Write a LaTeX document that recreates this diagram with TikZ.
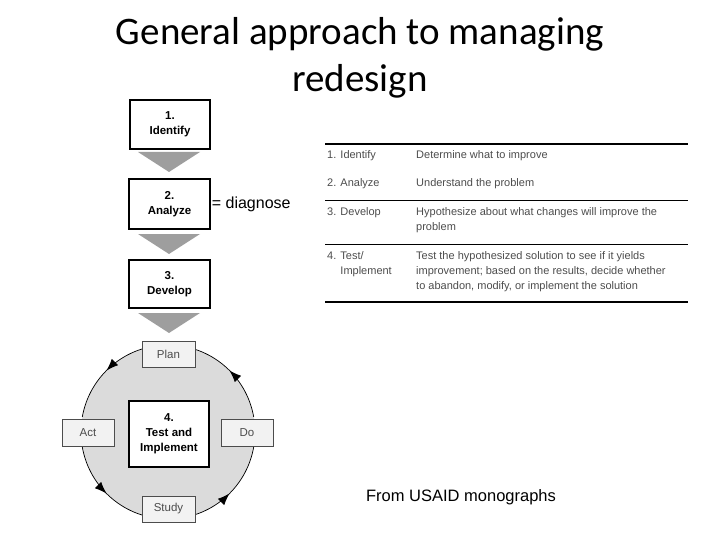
\documentclass[tikz,border=0pt]{standalone}
\usepackage{fontspec}
\setmainfont{Carlito}
\newfontfamily\arialfont{Liberation Sans}
\usetikzlibrary{arrows.meta,decorations.markings}
\definecolor{fillgray}{gray}{0.86}
\definecolor{chevgray}{gray}{0.62}
\definecolor{textgray}{gray}{0.3}
\tikzset{
    stepbox/.style = {draw=black, line width=1.3pt, fill=white, align=center, inner sep=0pt, font=\arialfont\bfseries\fontsize{11.5}{15}\selectfont},
    cyclebox/.style = {draw=black!70, thin, fill=white!95!black, inner sep=0pt, font=\arialfont\fontsize{11.5}{14}\selectfont, text=textgray},
    chevron/.style = {fill=chevgray, draw=none},
    rowtext/.style = {anchor=north west, inner sep=0pt, align=left, font=\arialfont\fontsize{11}{15}\selectfont, text=textgray},
    rule/.style = {line width=0.7pt},
    thickrule/.style = {line width=1.6pt}
}

\begin{document}
\begin{tikzpicture}
    [x=1pt, y=-1pt,
    arc arrow/.style={line width=0.7pt, decoration={markings, mark=at position 0.5 with {\arrow{Latex[length=12pt,width=9pt]}}}, postaction={decorate}}]

    \useasboundingbox (0,0) rectangle (720,540);

    % title
    \node (title) at (360,58) [align=center, font=\fontsize{39}{47}\selectfont] {General approach to managing\\redesign};

    % cycle
    \coordinate (ctr) at (168,432);
    \fill[fillgray] (ctr) circle (87);
    \foreach \a/\b in {80/10, -10/-80, -100/-170, 170/100}
        \draw[arc arrow] ([shift={(\a:87)}]ctr) arc[start angle=\a, end angle=\b, radius=87];

    % steps
    \node (identify) [stepbox, minimum width=80, minimum height=49] at (170,124.5) {1.\\Identify};
    \node (analyze) [stepbox, minimum width=81, minimum height=50] at (169.5,204) {2.\\Analyze};
    \node (develop) [stepbox, minimum width=81, minimum height=48] at (169.5,284) {3.\\Develop};
    \node (test) [stepbox, minimum width=80, minimum height=66] at (169,434) {4.\\Test and\\Implement};

    \foreach \y in {152,234,313}
        \fill[chevron] (138,\y) -- (200,\y) -- (169,\y+20) -- cycle;

    \node (plan) [cyclebox, minimum width=53, minimum height=26] at (168.5,354) {Plan};
    \node (do) [cyclebox, minimum width=52, minimum height=27] at (247,432.5) {Do};
    \node (study) [cyclebox, minimum width=53, minimum height=26] at (168.5,509) {Study};
    \node (act) [cyclebox, minimum width=52, minimum height=27] at (88,432.5) {Act};

    \node (diagnose) [anchor=west, inner sep=1pt, font=\arialfont\fontsize{16}{18}\selectfont] at (analyze.east) {= diagnose};

    % table
    \draw[thickrule] (325,144) -- (688,144);
    \draw[rule] (325,200) -- (688,200);
    \draw[rule] (325,244) -- (688,244);
    \draw[thickrule] (325,302) -- (688,302);
    \node[rowtext] (r1a) at (327,150) {1. Identify};
    \node[rowtext] (r1b) at (416,150) {Determine what to improve};
    \node[rowtext] (r2a) at (327,178) {2. Analyze};
    \node[rowtext] (r2b) at (416,178) {Understand the problem};
    \node[rowtext] (r3a) at (327,207) {3. Develop};
    \node[rowtext] (r3b) at (416,207) {Hypothesize about what changes will improve the\\problem};
    \node[rowtext] (r4a) at (327,251) {4. Test/\\\phantom{4. }Implement};
    \node[rowtext] (r4b) at (416,251) {Test the hypothesized solution to see if it yields\\improvement; based on the results, decide whether\\to abandon, modify, or implement the solution};

    \node (source) at (461,497) [font=\arialfont\fontsize{16.5}{19}\selectfont] {From USAID monographs};
\end{tikzpicture}
\end{document}
